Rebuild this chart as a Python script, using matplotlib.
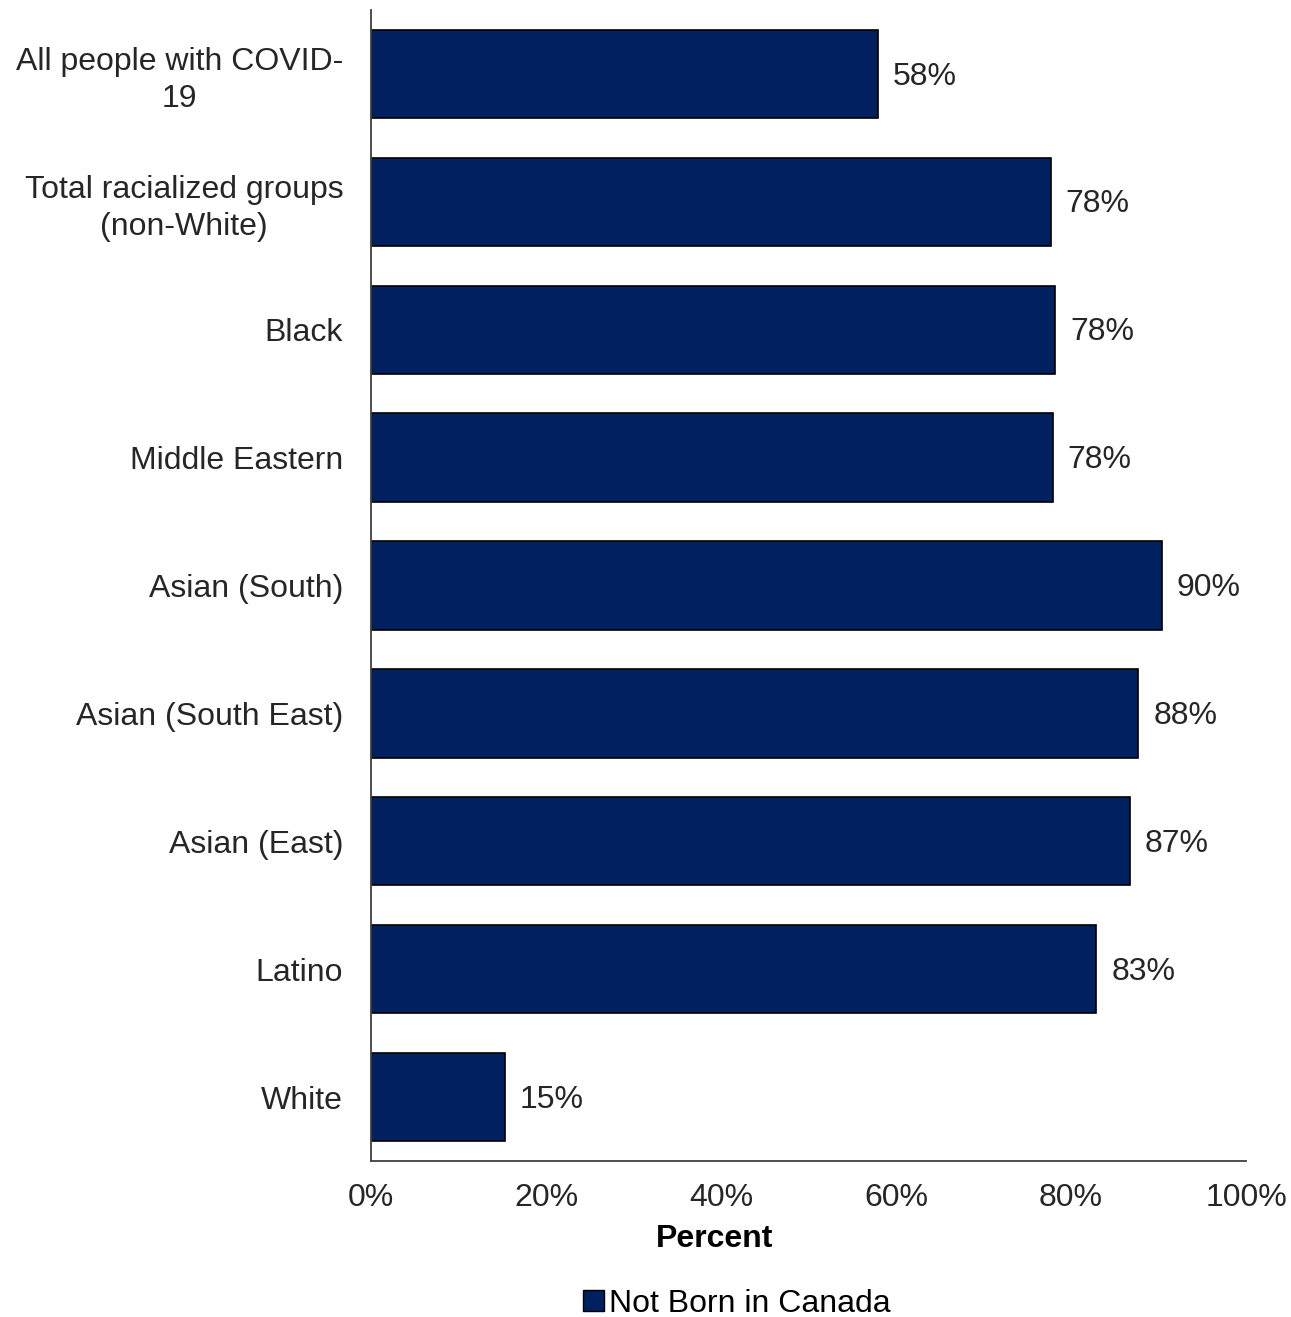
import matplotlib.pyplot as plt
from matplotlib.patches import Patch

plt.rcParams['font.family'] = ['Liberation Sans', 'DejaVu Sans']

groups = ['All people with COVID-\n19', 'Total racialized groups\n(non-White)', 'Black',
          'Middle Eastern', 'Asian (South)', 'Asian (South East)', 'Asian (East)',
          'Latino', 'White']
values = [57.9, 77.7, 78.2, 77.9, 90.4, 87.7, 86.7, 82.9, 15.3]
labels = ['58%', '78%', '78%', '78%', '90%', '88%', '87%', '83%', '15%']
ticks = [0, 20, 40, 60, 80, 100]
series_name = 'Not Born in Canada'
navy = '#002060'
fs = 23

fig = plt.figure(figsize=(12.91, 13.17), dpi=100)
ax = fig.add_axes([371/1291, 1 - 1161/1317, 875/1291, 1151/1317])

pos = list(range(len(groups)))
ax.barh(pos, values, height=0.69, color=navy, edgecolor='black', linewidth=1.2)
for p, v, l in zip(pos, values, labels):
    ax.text(v + 1.7, p + 0.02, l, va='center', ha='left', fontsize=fs, color='#262626')

ax.set_ylim(len(groups) - 0.5, -0.5)
ax.set_xlim(0, 100)
ax.set_yticks(pos)
ax.set_yticklabels(groups, fontsize=fs, color='#262626', ha='right',
                   multialignment='center', linespacing=1.3)
for t in ax.get_yticklabels():
    if '\n' in t.get_text():
        t.set_y(t.get_position()[1])
ax.set_xticks(ticks)
ax.set_xticklabels([f'{t}%' for t in ticks], fontsize=fs, color='#262626')
ax.tick_params(axis='y', length=0, pad=20)
ax.tick_params(axis='x', length=0, pad=16)
for side in ['top', 'right']:
    ax.spines[side].set_visible(False)
for side in ['left', 'bottom']:
    ax.spines[side].set_color('#404040')
    ax.spines[side].set_linewidth(1.3)

ax.set_xlabel('Percent', fontsize=fs, fontweight='bold', color='black')
ax.xaxis.set_label_coords(0.393, -0.055)

fig.legend(handles=[Patch(facecolor=navy, edgecolor='black', label=series_name)],
           loc='center', bbox_to_anchor=(737/1291, 1 - 1304/1317), frameon=False,
           fontsize=fs, handlelength=0.65, handleheight=0.65, handletextpad=0.15)

fig.savefig('out.png', dpi=100)
